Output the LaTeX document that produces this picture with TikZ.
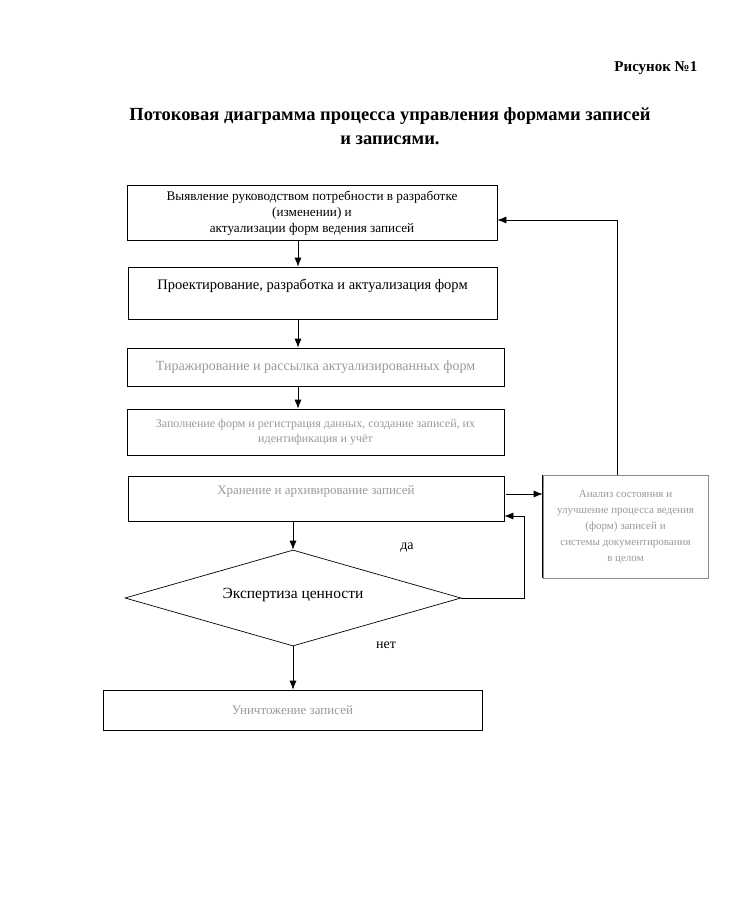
\documentclass[tikz,border=0pt]{standalone}
\usepackage{fontspec}
\setmainfont{Liberation Serif}
\usetikzlibrary{arrows.meta,shapes.geometric}

\tikzset{
  arr/.style={-{Latex[length=9pt,width=7pt]}},
  stagebox/.style={draw,rectangle,inner sep=2pt,align=center},
  hidden/.style={text=black!40},
}

\begin{document}
\begin{tikzpicture}[x=1pt,y=-1pt,line width=0.7pt]
        \useasboundingbox (0,0) rectangle (732,910);

        \node[anchor=east,font=\fontsize{15}{18}\selectfont\bfseries] (fig) at (701,68) {Рисунок №1};
        \node[align=center,font=\fontsize{18.5}{24}\selectfont\bfseries] (title) at (390,126)
          {Потоковая диаграмма процесса управления формами записей\\и записями.};

        \begin{scope}[every node/.style={stagebox}]
          \node[minimum width=370pt,minimum height=55pt,font=\fontsize{13.2}{15.8}\selectfont] (need) at (312,213)
            {Выявление руководством потребности в разработке\\(изменении) и\\актуализации форм ведения записей};
          \node[minimum width=369pt,minimum height=52pt,font=\fontsize{14.5}{18}\selectfont] (design) at (312.5,293)
            {Проектирование, разработка и актуализация форм\\~};
          \node[hidden,minimum width=377pt,minimum height=38pt,font=\fontsize{14}{17}\selectfont] (copy) at (315.5,367)
            {Тиражирование и рассылка актуализированных форм};
          \node[hidden,minimum width=377pt,minimum height=46pt,font=\fontsize{12}{15}\selectfont] (fill) at (315.5,432)
            {Заполнение форм и регистрация данных, создание записей, их\\идентификация и учёт};
          \node[hidden,minimum width=376pt,minimum height=45pt,font=\fontsize{13}{17}\selectfont] (store) at (316,498.5)
            {Хранение и архивирование записей\\~};
          \node[hidden,draw=black!45,minimum width=165pt,minimum height=103pt,font=\fontsize{11}{16}\selectfont] (review) at (625.5,526.5)
            {Анализ состояния и\\улучшение процесса ведения\\(форм) записей и\\системы документирования\\в целом};
          \node[hidden,minimum width=379pt,minimum height=40pt,font=\fontsize{13}{17}\selectfont] (destroy) at (292.5,710)
            {Уничтожение записей};
        \end{scope}

        \node[draw,diamond,aspect=3.5,inner sep=0pt,minimum width=336pt,minimum height=96pt,
              font=\fontsize{15.5}{18}\selectfont] (check) at (293,598) {\raisebox{9pt}{Экспертиза ценности}};

        \node[font=\fontsize{14}{17}\selectfont] (yes) at (407,548) {да};
        \node[font=\fontsize{14}{17}\selectfont] (no) at (386,645) {нет};

        \coordinate (spine) at (298,0);
        \coordinate (ret) at (524,516);
        \coordinate (fb) at (617,220);

        \draw (review.north west) -- (review.south west);

        \draw[arr] (need.south -| spine) -- (design.north -| spine);
        \draw[arr] (design.south -| spine) -- (copy.north -| spine);
        \draw[arr] (copy.south -| spine) -- (fill.north -| spine);
        \draw[arr] (store.south -| check.north) -- (check.north);
        \draw[arr] (check.south) -- (destroy.north -| check.south);
        \draw[arr] (check.east) -| (ret) -- (ret -| store.east);
        \draw[arr,shorten <=2pt] ([yshift=4.5pt]store.east) -- ([yshift=4.5pt]store.east -| review.west);
        \draw[arr] (review.north -| fb) -- (fb) -- (fb -| need.east);

      \end{tikzpicture}
\end{document}
